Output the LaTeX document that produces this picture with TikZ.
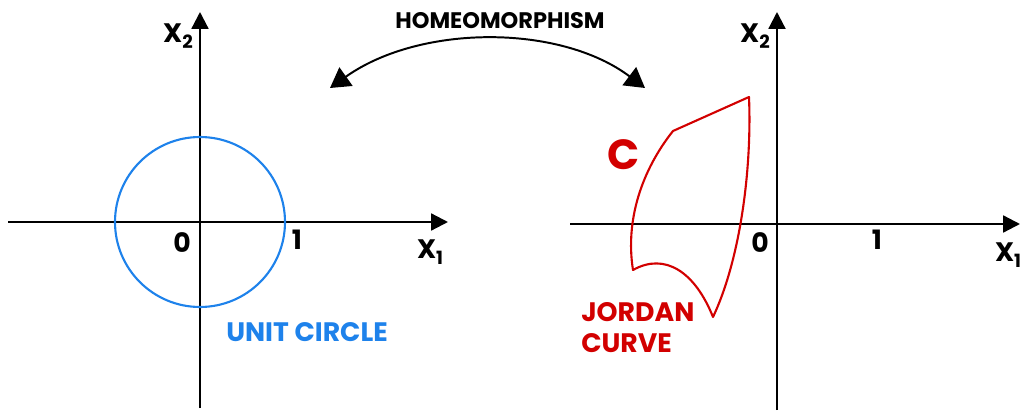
\documentclass[tikz,border=0pt]{standalone}
\usepackage{fontspec}
\setmainfont{Poppins}
\usetikzlibrary{arrows.meta}
\definecolor{circblue}{RGB}{30,130,235}
\definecolor{jordred}{RGB}{210,0,0}
\tikzset{
  axis/.style={line width=1.6pt,-{Triangle[width=12pt,length=12pt]}},
  lbl/.style={font=\bfseries\fontsize{16}{16}\selectfont,inner sep=0pt},
  biglbl/.style={font=\bfseries\fontsize{19}{19}\selectfont,inner sep=0pt},
  axlbl/.style={font=\bfseries\fontsize{19}{19}\selectfont,inner sep=0pt}
}
\newcommand{\xsub}[1]{X\raisebox{-0.45ex}{\fontsize{13}{13}\selectfont #1}}
\begin{document}
\begin{tikzpicture}[x=0.025cm,y=-0.025cm]
\useasboundingbox (0,0) rectangle (1020,413);

% left plane
\coordinate (lo) at (200,222);
\draw[axis] (8,222) -- (448,222);
\draw[axis] (200,408) -- (200,12);
\draw[circblue,line width=1.5pt] (lo) circle[radius=85];
\node[axlbl] (lx2) at (178,36) {\xsub{2}};
\node[axlbl] (lx1) at (430,252) {\xsub{1}};
\node[biglbl] (lzero) at (182,243) {0};
\node[biglbl] (lone) at (297,240) {1};
\node[biglbl,circblue] (unit) at (307,332) {UNIT CIRCLE};

% right plane
\draw[axis] (570,224) -- (1020,224);
\draw[axis] (777,410) -- (777,12);
\node[axlbl] (rx2) at (755,36) {\xsub{2}};
\node[axlbl] (rx1) at (1008,255) {\xsub{1}};
\node[biglbl] (rzero) at (760,243) {0};
\node[biglbl] (rone) at (877,240) {1};

% jordan curve
\draw[jordred,line width=1.5pt,line join=round]
  (673,131) -- (749,97)
  .. controls (752,170) and (740,260) .. (713,317)
  .. controls (695,272) and (665,252) .. (633,270)
  .. controls (625,220) and (642,170) .. (673,131) -- cycle;
\node[jordred,font=\bfseries\fontsize{30}{30}\selectfont,inner sep=0pt] (cc) at (624,155) {C};
\node[biglbl,jordred,align=left,anchor=west] (jord) at (581,328) {JORDAN\\[3pt]CURVE};

% homeomorphism
\coordinate (hl) at (330,88);
\coordinate (hr) at (645,88);
\draw[line width=1.4pt,{Triangle[width=16pt,length=14pt]}-{Triangle[width=16pt,length=14pt]}]
  (hl) .. controls (420,24) and (560,24) .. (hr);
\node[lbl] (homeo) at (500,21) {HOMEOMORPHISM};
\end{tikzpicture}
\end{document}
